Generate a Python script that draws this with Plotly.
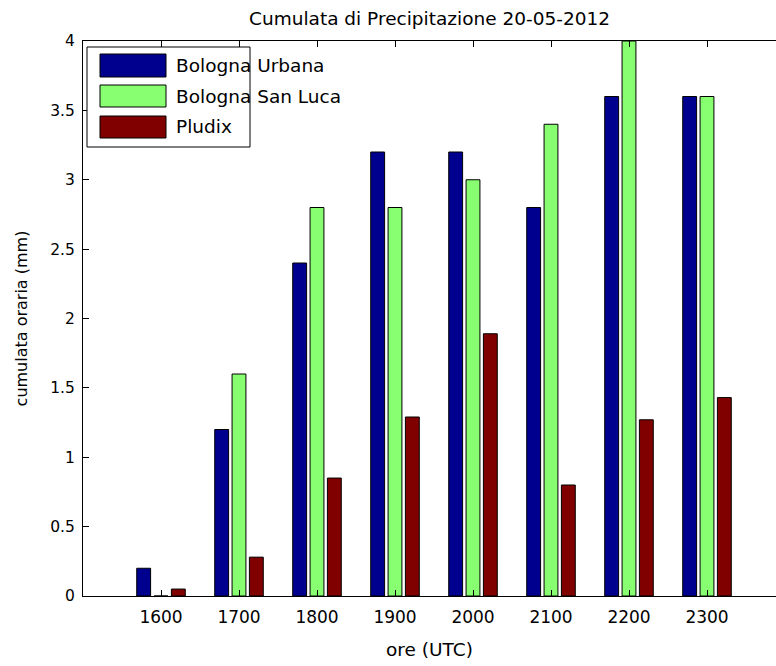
import plotly.graph_objects as go

# Hourly accumulated precipitation, 20 May 2012
hours = [1600, 1700, 1800, 1900, 2000, 2100, 2200, 2300]
bologna_urbana = [0.2, 1.2, 2.4, 3.2, 3.2, 2.8, 3.6, 3.6]
bologna_san_luca = [0.0, 1.6, 2.8, 2.8, 3.0, 3.4, 4.0, 3.6]
pludix = [0.05, 0.28, 0.85, 1.29, 1.89, 0.8, 1.27, 1.43]

series_names = ["Bologna Urbana", "Bologna San Luca", "Pludix"]
series_values = [bologna_urbana, bologna_san_luca, pludix]
series_colors = ["rgb(0,0,143)", "rgb(136,255,112)", "rgb(128,0,0)"]

W, H = 776, 666
ML, MR, MT, MB = 83, 0, 41, 70
PW = W - ML - MR
PH = H - MT - MB
FONT = "DejaVu Sans"

fig = go.Figure()
for name, vals, col in zip(series_names, series_values, series_colors):
    fig.add_trace(go.Bar(
        x=hours, y=vals, name=name,
        marker=dict(color=col, line=dict(color="black", width=1)),
        showlegend=False,
    ))


def px_x(p):
    return (p - ML) / PW


def px_y(p):
    return (MT + PH - p) / PH


# Boxed legend with large colour swatches
shapes = [dict(type="rect", xref="paper", yref="paper",
               x0=px_x(87), x1=px_x(250), y0=px_y(147), y1=px_y(47),
               fillcolor="white", line=dict(color="black", width=1), layer="above")]
annotations = []
rows = [(54, 77), (85, 107), (116, 138)]
for (t, b), name, col in zip(rows, series_names, series_colors):
    shapes.append(dict(type="rect", xref="paper", yref="paper",
                       x0=px_x(100), x1=px_x(166), y0=px_y(b), y1=px_y(t),
                       fillcolor=col, line=dict(color="black", width=1), layer="above"))
    annotations.append(dict(xref="paper", yref="paper", x=px_x(174), y=px_y((t + b) / 2),
                            text=name, showarrow=False, xanchor="left", yanchor="middle",
                            font=dict(family=FONT, size=18.5, color="black")))

span = PW / 78 * 100
fig.update_layout(
    width=W, height=H,
    margin=dict(l=ML, r=MR, t=MT, b=MB),
    paper_bgcolor="white", plot_bgcolor="white",
    barmode="group", bargap=1 / 3, bargroupgap=0.2,
    font=dict(family=FONT, size=15, color="black"),
    title=dict(text="Cumulata di Precipitazione 20-05-2012", x=0.5, xref="paper",
               y=1 - 19 / H, yanchor="middle", xanchor="center",
               font=dict(family=FONT, size=18.5, color="black")),
    shapes=shapes,
    annotations=annotations,
    xaxis=dict(range=[1500, 1500 + span], tickvals=hours, ticktext=[str(h) for h in hours],
               ticks="inside", ticklen=6, tickcolor="black", showline=True, linecolor="black",
               linewidth=1, mirror="ticks", showgrid=False, zeroline=False,
               tickfont=dict(family=FONT, size=17), ticklabelstandoff=6,
               title=dict(text="ore (UTC)", standoff=16, font=dict(family=FONT, size=18.5))),
    yaxis=dict(range=[0, 4], dtick=0.5, ticks="inside", ticklen=6, tickcolor="black",
               showline=True, linecolor="black", linewidth=1, showgrid=False, zeroline=False,
               tickfont=dict(family=FONT, size=15.5), ticklabelstandoff=4,
               title=dict(text="cumulata oraria (mm)", standoff=18, font=dict(family=FONT, size=16))),
)

fig.write_html("out.html")
